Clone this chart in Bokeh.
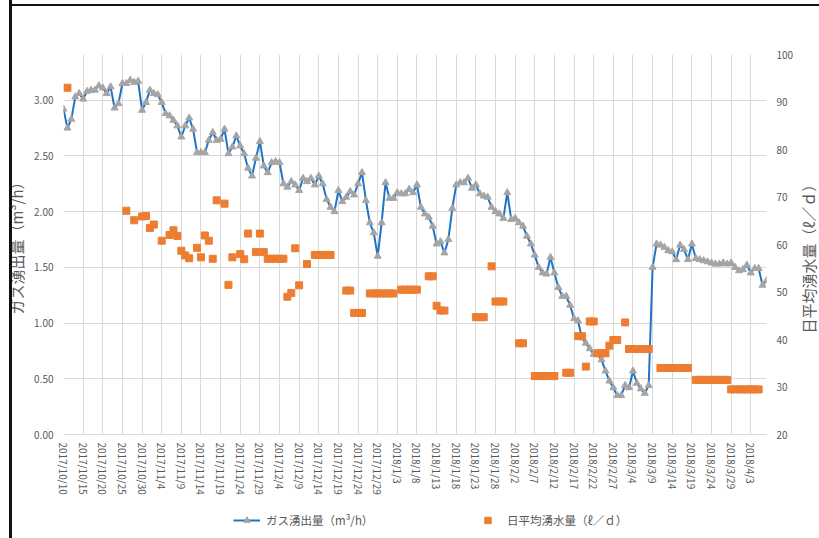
import math
from bokeh.plotting import figure
from bokeh.layouts import column, row
from bokeh.models import (Range1d, LinearAxis, FixedTicker, NumeralTickFormatter,
                          Legend, LegendItem, ColumnDataSource, Title, InlineStyleSheet)
from bokeh.embed import file_html
from bokeh.resources import INLINE

# ---------------- data ----------------
# daily gas outflow (m3/h), starting 2017/10/10 (day 0)
gas = [2.92, 2.75, 2.83, 3.03, 3.06, 3.01, 3.08, 3.09, 3.09, 3.13,
       3.11, 3.06, 3.12, 2.93, 2.97, 3.15, 3.15, 3.18, 3.16, 3.17,
       2.91, 2.98, 3.09, 3.06, 3.05, 2.98, 2.88, 2.86, 2.82, 2.77,
       2.67, 2.77, 2.84, 2.74, 2.53, 2.53, 2.53, 2.64, 2.71, 2.64,
       2.65, 2.74, 2.52, 2.58, 2.68, 2.59, 2.52, 2.39, 2.32, 2.48,
       2.63, 2.41, 2.35, 2.44, 2.45, 2.44, 2.25, 2.22, 2.27, 2.24,
       2.19, 2.30, 2.27, 2.30, 2.24, 2.32, 2.25, 2.11, 2.04, 2.00,
       2.19, 2.09, 2.13, 2.18, 2.15, 2.25, 2.35, 2.10, 1.90, 1.81,
       1.60, 1.90, 2.26, 2.12, 2.12, 2.17, 2.16, 2.16, 2.20, 2.17,
       2.24, 2.04, 1.98, 1.95, 1.87, 1.71, 1.73, 1.63, 1.75, 2.03,
       2.24, 2.26, 2.26, 2.30, 2.21, 2.24, 2.16, 2.14, 2.13, 2.04,
       2.00, 1.98, 1.94, 2.17, 1.93, 1.94, 1.90, 1.87, 1.78, 1.71,
       1.61, 1.50, 1.45, 1.44, 1.59, 1.45, 1.32, 1.24, 1.24, 1.16,
       1.04, 1.02, 0.87, 0.82, 0.77, 0.72, 0.72, 0.67, 0.57, 0.48,
       0.42, 0.35, 0.35, 0.44, 0.42, 0.57, 0.46, 0.41, 0.37, 0.44,
       1.50, 1.71, 1.70, 1.68, 1.65, 1.64, 1.57, 1.70, 1.66, 1.57,
       1.71, 1.58, 1.57, 1.56, 1.55, 1.54, 1.53, 1.53, 1.54, 1.53,
       1.54, 1.50, 1.47, 1.48, 1.52, 1.45, 1.49, 1.49, 1.34, 1.38]
gas_days = list(range(len(gas)))

# daily mean water inflow (l/d): day offset from 2017/10/10 and value
water_days = [1, 16, 18, 20, 21, 22, 23, 25, 27, 28, 29, 30, 31, 32, 34, 35, 36, 37, 38, 39,
              41, 42, 43, 45, 46, 47, 49, 50, 51, 52, 53, 54, 55, 56, 57, 58, 59, 60, 62,
              64, 65, 66, 67, 68, 72, 73, 74, 75, 76, 78, 79, 80, 81, 82, 83, 84,
              86, 87, 88, 89, 90, 93, 94, 95, 96, 97, 105, 106, 107, 109, 110, 111, 112,
              116, 117, 120, 121, 122, 123, 124, 125, 128, 129, 131, 132, 133, 134, 135,
              136, 137, 138, 139, 140, 141, 143, 144, 145, 146, 147, 148, 149,
              152, 153, 154, 155, 156, 157, 158, 159, 161, 162, 163, 164, 165, 166, 167, 168, 169,
              170, 171, 172, 173, 174, 175, 176, 177]
water = [93.0, 67.1, 65.1, 65.9, 66.0, 63.5, 64.2, 60.8, 62.0, 63.0, 61.8, 58.7, 57.7, 57.1, 59.3, 57.3, 61.9, 60.8, 57.0, 69.3,
         68.6, 51.5, 57.3, 58.0, 56.9, 62.3, 58.4, 62.3, 58.4, 57.0, 57.0, 57.0, 57.0, 57.0, 49.0, 49.8, 59.2, 51.4, 55.9,
         57.8, 57.8, 57.8, 57.8, 57.8, 50.3, 50.3, 45.6, 45.6, 45.6, 49.7, 49.7, 49.7, 49.7, 49.7, 49.7, 49.7,
         50.5, 50.5, 50.5, 50.5, 50.5, 53.3, 53.3, 47.1, 46.1, 46.1, 44.7, 44.7, 44.7, 55.4, 48.0, 48.0, 48.0,
         39.2, 39.2, 32.3, 32.3, 32.3, 32.3, 32.3, 32.3, 33.0, 33.0, 40.7, 40.7, 34.3, 43.8, 43.8,
         37.1, 37.1, 37.1, 38.7, 39.9, 39.9, 43.6, 38.0, 38.0, 38.0, 38.0, 38.0, 38.0,
         34.0, 34.0, 34.0, 34.0, 34.0, 34.0, 34.0, 34.0, 31.5, 31.5, 31.5, 31.5, 31.5, 31.5, 31.5, 31.5, 31.5,
         29.5, 29.5, 29.5, 29.5, 29.5, 29.5, 29.5, 29.5]

tick_labels = ["2017/10/10", "2017/10/15", "2017/10/20", "2017/10/25", "2017/10/30",
               "2017/11/4", "2017/11/9", "2017/11/14", "2017/11/19", "2017/11/24",
               "2017/11/29", "2017/12/4", "2017/12/9", "2017/12/14", "2017/12/19",
               "2017/12/24", "2017/12/29", "2018/1/3", "2018/1/8", "2018/1/13",
               "2018/1/18", "2018/1/23", "2018/1/28", "2018/2/2", "2018/2/7",
               "2018/2/12", "2018/2/17", "2018/2/22", "2018/2/27", "2018/3/4",
               "2018/3/9", "2018/3/14", "2018/3/19", "2018/3/24", "2018/3/29", "2018/4/3"]
tick_step_days = 5
left_ticks = [0.0, 0.5, 1.0, 1.5, 2.0, 2.5, 3.0]
right_ticks = [20, 30, 40, 50, 60, 70, 80, 90, 100]

gas_label = "ガス湧出量（m³/h）"
water_label = "日平均湧水量（ℓ／ｄ）"

# ---------------- styles ----------------
FONT = "Noto Sans CJK JP"
TXT = "#595959"
GRID = "#D9D9D9"
BLUE = "#1F74C6"
GRAY = "#A5A5A5"
ORANGE = "#ED7D31"

W_TOTAL = 819
W_TITLE = 23
H_MAIN = 508

p = figure(width=W_TOTAL - W_TITLE, height=H_MAIN, output_backend="svg", toolbar_location=None,
           x_range=Range1d(0, gas_days[-1]), y_range=Range1d(0, 3.41),
           min_border_left=63, min_border_right=27, min_border_top=54, min_border_bottom=74)
p.outline_line_color = None
p.background_fill_color = "white"
p.border_fill_color = "white"


def style_axis(ax, standoff):
    ax.major_tick_line_color = None
    ax.minor_tick_line_color = None
    ax.major_tick_out = 0
    ax.major_tick_in = 0
    ax.minor_tick_out = 0
    ax.minor_tick_in = 0
    ax.major_label_text_font = FONT
    ax.major_label_text_font_size = "10px"
    ax.major_label_text_color = TXT
    ax.major_label_standoff = standoff


xticks = [i * tick_step_days for i in range(len(tick_labels))]
xax = p.xaxis[0]
xax.ticker = FixedTicker(ticks=xticks)
xax.major_label_overrides = {t: lab for t, lab in zip(xticks, tick_labels)}
xax.major_label_orientation = -math.pi / 2
style_axis(xax, 8)
xax.axis_line_color = GRID

yax = p.yaxis[0]
yax.ticker = FixedTicker(ticks=left_ticks)
yax.formatter = NumeralTickFormatter(format="0.00")
style_axis(yax, 10)
yax.axis_line_color = None
yax.axis_label = gas_label
yax.axis_label_text_font = FONT
yax.axis_label_text_font_size = "15px"
yax.axis_label_text_font_style = "normal"
yax.axis_label_text_color = TXT
yax.axis_label_standoff = 4

p.xgrid.grid_line_color = GRID
p.ygrid.grid_line_color = GRID

p.extra_y_ranges = {"water": Range1d(20, 100)}
ax2 = LinearAxis(y_range_name="water", ticker=FixedTicker(ticks=right_ticks))
style_axis(ax2, 10)
ax2.axis_line_color = None
p.add_layout(ax2, "right")

gsrc = ColumnDataSource(dict(x=gas_days, y=gas))
wsrc = ColumnDataSource(dict(x=water_days, y=water))

line_style = dict(line_color=BLUE, line_width=2)
tri_style = dict(marker="triangle", size=7, fill_color=GRAY, line_color=GRAY)
sq_style = dict(marker="square", size=7, fill_color=ORANGE, line_color=ORANGE)

p.line("x", "y", source=gsrc, **line_style)
p.scatter("x", "y", source=gsrc, **tri_style)
p.scatter("x", "y", source=wsrc, y_range_name="water", **sq_style)

# ---- right-hand axis title (reads bottom-to-top like the reference) ----
tf = figure(width=W_TITLE, height=H_MAIN, output_backend="svg", toolbar_location=None,
            x_range=Range1d(0, 1), y_range=Range1d(0, 1),
            x_axis_location=None, y_axis_location=None,
            min_border_left=0, min_border_right=0, min_border_top=0, min_border_bottom=0)
tf.outline_line_color = None
tf.grid.visible = False
tf.background_fill_color = "white"
tf.border_fill_color = "white"
tf.add_layout(Title(text=water_label, align="left", offset=101, standoff=0,
                    vertical_align="middle",
                    text_font=FONT, text_font_size="15px", text_font_style="normal",
                    text_color=TXT), "left")

# ---- legend strip below the chart (its renderers share the data but lie outside its view) ----
lf = figure(width=W_TOTAL, height=30, output_backend="svg", toolbar_location=None,
            x_range=Range1d(0, 1), y_range=Range1d(-2, -1),
            x_axis_location=None, y_axis_location=None,
            min_border_left=0, min_border_right=0, min_border_top=0, min_border_bottom=0)
lf.outline_line_color = None
lf.grid.visible = False
lf.background_fill_color = "white"
lf.border_fill_color = "white"
l_line = lf.line("x", "y", source=gsrc, **line_style)
l_tri = lf.scatter("x", "y", source=gsrc, **tri_style)
l_sq = lf.scatter("x", "y", source=wsrc, **sq_style)

legend = Legend(items=[LegendItem(label=gas_label, renderers=[l_line, l_tri]),
                       LegendItem(label=water_label, renderers=[l_sq])],
                orientation="horizontal", location=(233, 10),
                border_line_color=None, background_fill_alpha=0,
                padding=0, margin=0, spacing=8, glyph_width=27, glyph_height=16,
                label_width=200, label_standoff=6,
                label_text_font=FONT, label_text_font_size="11.5px", label_text_color=TXT)
lf.add_layout(legend, "center")

# dark frame edges (left and top) of the original picture, drawn as page decoration
frame_css = InlineStyleSheet(css="""
:host { position: relative; }
:host::before { content: ""; position: absolute; left: 9px; top: 0; width: 3px; height: 538px;
                background: #111; z-index: 10; pointer-events: none; }
:host::after { content: ""; position: absolute; left: 9px; top: 4px; width: 810px; height: 2px;
               background: #111; z-index: 10; pointer-events: none; }
""")

layout = column(row(p, tf, spacing=0), lf, spacing=0, stylesheets=[frame_css])
open("out.html", "w").write(file_html(layout, INLINE))
